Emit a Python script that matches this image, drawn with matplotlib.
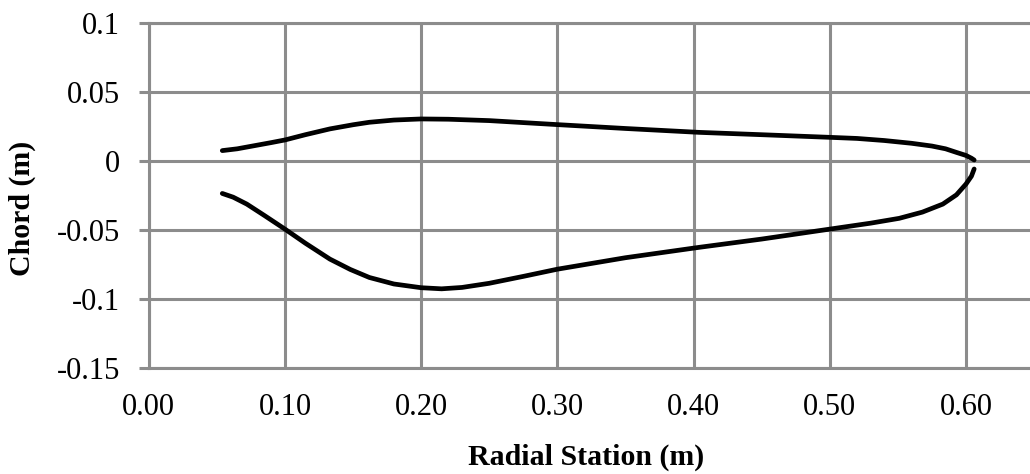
import matplotlib
matplotlib.use("Agg")
import matplotlib.pyplot as plt

# --- 数据---
upper_x = [0.054, 0.065, 0.080, 0.090, 0.100, 0.115, 0.133, 0.150, 0.162, 0.180,
           0.200, 0.220, 0.250, 0.300, 0.350, 0.404, 0.450, 0.500, 0.520, 0.540,
           0.560, 0.575, 0.585, 0.593, 0.600, 0.604, 0.606]
upper_y = [0.0075, 0.0088, 0.0115, 0.0133, 0.0152, 0.0190, 0.0232, 0.0262, 0.0280, 0.0296,
           0.0304, 0.0302, 0.0292, 0.0263, 0.0235, 0.0207, 0.0190, 0.0171, 0.0163, 0.0148,
           0.0128, 0.0108, 0.0088, 0.0062, 0.0040, 0.0020, 0.0007]

lower_x = [0.054, 0.062, 0.072, 0.085, 0.100, 0.115, 0.133, 0.148, 0.162, 0.180,
           0.200, 0.215, 0.230, 0.250, 0.275, 0.300, 0.350, 0.404, 0.450, 0.500,
           0.530, 0.551, 0.568, 0.583, 0.593, 0.600, 0.604, 0.606]
lower_y = [-0.0235, -0.0262, -0.0312, -0.0395, -0.0493, -0.0595, -0.0710, -0.0785, -0.0843, -0.0890,
           -0.0917, -0.0925, -0.0915, -0.0885, -0.0835, -0.0783, -0.0700, -0.0625, -0.0565, -0.0493,
           -0.0450, -0.0415, -0.0370, -0.0312, -0.0245, -0.0167, -0.0110, -0.0058]

x_ticks = [0.0, 0.1, 0.2, 0.3, 0.4, 0.5, 0.6]
x_tick_labels = ["0.00", "0.10", "0.20", "0.30", "0.40", "0.50", "0.60"]
y_ticks = [0.1, 0.05, 0.0, -0.05, -0.1, -0.15]
y_tick_labels = ["0.1", "0.05", "0", "-0.05", "-0.1", "-0.15"]

GRID = "#8c8c8c"

plt.rcParams['font.family'] = ['Liberation Serif', 'DejaVu Serif']

fig = plt.figure(figsize=(10.3, 4.74), dpi=100)
ax = fig.add_axes([0.1444, 0.223, 1 - 0.1444, 0.729])

# 上下两条曲线
ax.plot(upper_x, upper_y, color="black", linewidth=3.4, solid_capstyle="round", solid_joinstyle="round")
ax.plot(lower_x, lower_y, color="black", linewidth=3.4, solid_capstyle="round", solid_joinstyle="round")

ax.set_xlim(0, 0.647)
ax.set_ylim(-0.15, 0.1)
ax.set_xticks(x_ticks)
ax.set_xticklabels(x_tick_labels)
ax.set_yticks(y_ticks)
ax.set_yticklabels(y_tick_labels)

ax.grid(True, color=GRID, linewidth=2.2)
ax.set_axisbelow(True)
for side in ["left", "bottom", "top"]:
    ax.spines[side].set_color(GRID)
    ax.spines[side].set_linewidth(2.2)
ax.spines["right"].set_visible(False)

ax.tick_params(axis="y", direction="out", length=7.5, width=2.2, color=GRID, pad=13, labelsize=22)
ax.tick_params(axis="x", length=0, pad=18, labelsize=22)

ax.set_xlabel("Radial Station (m)", fontsize=21.5, fontweight="bold", va="center")
ax.xaxis.set_label_coords(0.496, -0.257)
ax.set_ylabel("Chord (m)", fontsize=21.5, fontweight="bold", va="center")
ax.yaxis.set_label_coords(-0.143, 0.464)

fig.savefig("out.png", dpi=100)
